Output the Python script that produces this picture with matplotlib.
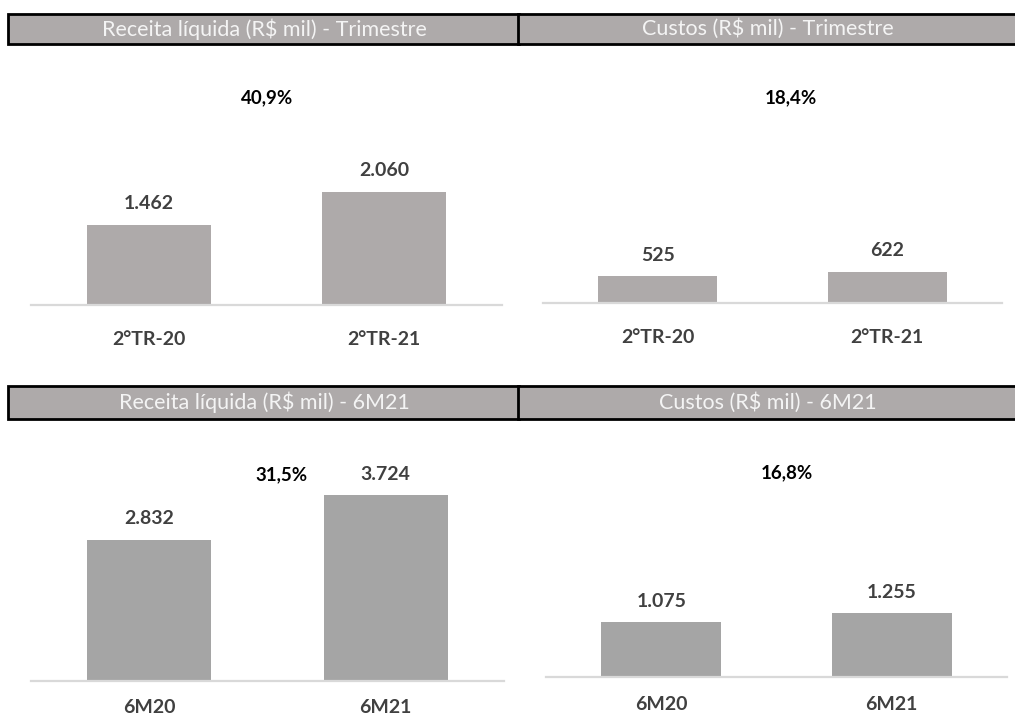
import matplotlib
matplotlib.use("Agg")
import matplotlib.pyplot as plt
from matplotlib.patches import Rectangle

plt.rcParams['font.family'] = ['Lato', 'DejaVu Sans']

# data
cats_tri = ["2°TR-20", "2°TR-21"]
cats_6m = ["6M20", "6M21"]
receita_tri = [1462, 2060]
custos_tri = [525, 622]
receita_6m = [2832, 3724]
custos_6m = [1075, 1255]
labels_receita_tri = ["1.462", "2.060"]
labels_custos_tri = ["525", "622"]
labels_receita_6m = ["2.832", "3.724"]
labels_custos_6m = ["1.075", "1.255"]
var_receita_tri = "40,9%"
var_custos_tri = "18,4%"
var_receita_6m = "31,5%"
var_custos_6m = "16,8%"
titles = ["Receita líquida (R$ mil) - Trimestre", "Custos (R$ mil) - Trimestre",
          "Receita líquida (R$ mil) - 6M21", "Custos (R$ mil) - 6M21"]

W, H = 1015, 718
fig = plt.figure(figsize=(W / 100, H / 100), dpi=100)


def px_axes(l, t, r, b):
    return fig.add_axes([l / W, 1 - b / H, (r - l) / W, (b - t) / H])


def header(l, t, r, b, text, tx):
    fig.patches.append(Rectangle((l / W, 1 - b / H), (r - l) / W, (b - t) / H,
                                 transform=fig.transFigure, facecolor="#aeaaaa",
                                 edgecolor="black", linewidth=2, zorder=1))
    fig.text(tx / W, 1 - (t + b) / 2 / H, text, ha="center", va="center",
             color="#f4f4f4", fontsize=15.5, zorder=5)


def bar_panel(box, ymax, cats, vals, labels, width, color, lab_pad):
    ax = px_axes(*box)
    ax.bar([0, 1], vals, width=width, color=color)
    ax.set_xlim(-0.5, 1.5)
    ax.set_ylim(0, ymax)
    for s in ["top", "left", "right"]:
        ax.spines[s].set_visible(False)
    ax.spines["bottom"].set_color("#d9d9d9")
    ax.spines["bottom"].set_linewidth(1.6)
    ax.set_yticks([])
    ax.set_xticks([])
    for i, v in enumerate(vals):
        ax.annotate(labels[i], (i, v), xytext=(0, 15), textcoords="offset points",
                    ha="center", va="center", fontsize=14, fontweight="bold",
                    color="#404040")
        ax.annotate(cats[i], (i, 0), xytext=(0, -lab_pad), textcoords="offset points",
                    ha="center", va="center", fontsize=14, fontweight="bold",
                    color="#404040")
    return ax


header(8, 14, 519, 44, titles[0], 264)
header(518, 14, 1030, 44, titles[1], 768)
header(8, 386, 519, 419, titles[2], 264)
header(518, 386, 1030, 419, titles[3], 768)

bar_panel((31, 60, 502, 305), 4455, cats_tri, receita_tri, labels_receita_tri,
          0.525, "#aeaaaa", 24.5)
bar_panel((543, 60, 1002, 303), 4812, cats_tri, custos_tri, labels_custos_tri,
          0.52, "#aeaaaa", 24.5)
bar_panel((31, 440, 504, 681), 4830, cats_6m, receita_6m, labels_receita_6m,
          0.523, "#a5a5a5", 19)
bar_panel((546, 440, 1007, 677), 4647, cats_6m, custos_6m, labels_custos_6m,
          0.52, "#a5a5a5", 20)

for txt, x, y in [(var_receita_tri, 267, 98), (var_custos_tri, 791, 98),
                  (var_receita_6m, 281, 475), (var_custos_6m, 787, 473)]:
    fig.text(x / W, 1 - y / H, txt, ha="center", va="center", fontsize=13.5,
             fontweight="bold", color="black")

fig.savefig("out.png", dpi=100)
